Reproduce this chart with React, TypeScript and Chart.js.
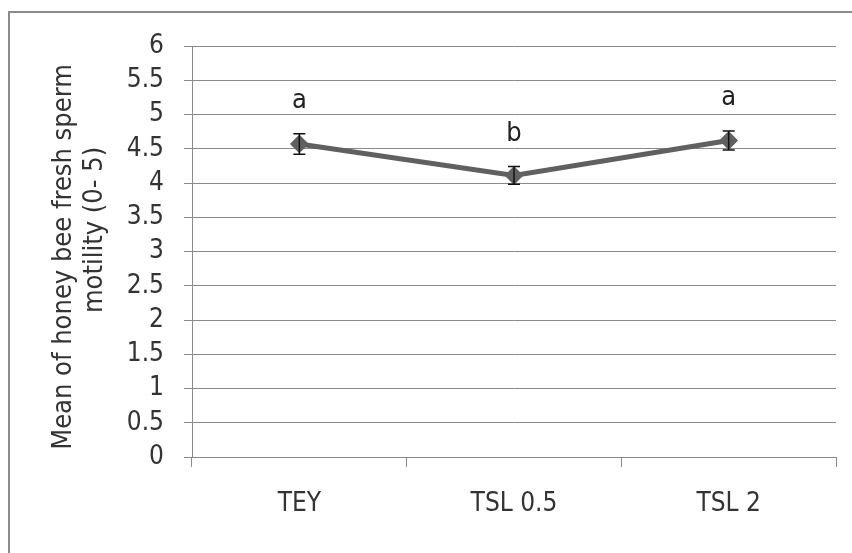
import React, { useEffect, useRef } from "react";
import { Chart, registerables } from "chart.js";

Chart.register(...registerables);

const categories = ["TEY", "TSL 0.5", "TSL 2"];
const meanValues = [4.57, 4.11, 4.62];
const errorValues = [0.15, 0.13, 0.14];
const groupLetters = ["a", "b", "a"];
const yTitleLines = ["Mean of honey bee fresh sperm", "motility (0- 5)"];

const FONT = '"Liberation Sans Narrow", "DejaVu Sans Condensed", "Open Sans", sans-serif';
const TEXT = "#333333";
const GRID = "#8a8a8a";

const W = 852;
const H = 553;

const framePlugin = {
  id: "frame",
  beforeDraw(chart: any) {
    const ctx = chart.ctx;
    ctx.save();
    ctx.fillStyle = "#ffffff";
    ctx.fillRect(0, 0, W, H);
    ctx.strokeStyle = "#8c8c8c";
    ctx.lineWidth = 2;
    ctx.beginPath();
    ctx.moveTo(9, H + 5);
    ctx.lineTo(9, 12);
    ctx.lineTo(W + 5, 12);
    ctx.stroke();
    ctx.restore();
  },
};

const extrasPlugin = {
  id: "extras",
  afterDatasetsDraw(chart: any) {
    const ctx = chart.ctx;
    const x = chart.scales.x;
    const y = chart.scales.y;
    ctx.save();
    ctx.strokeStyle = "#111111";
    ctx.lineWidth = 1.5;
    meanValues.forEach((m, i) => {
      const px = x.getPixelForValue(i);
      const top = y.getPixelForValue(m + errorValues[i]);
      const bot = y.getPixelForValue(m - errorValues[i]);
      ctx.beginPath();
      ctx.moveTo(px, top);
      ctx.lineTo(px, bot);
      ctx.moveTo(px - 6, top);
      ctx.lineTo(px + 6, top);
      ctx.moveTo(px - 6, bot);
      ctx.lineTo(px + 6, bot);
      ctx.stroke();
    });
    ctx.fillStyle = "#222222";
    ctx.font = `27px ${FONT}`;
    ctx.textAlign = "center";
    ctx.textBaseline = "middle";
    groupLetters.forEach((l, i) => {
      const px = x.getPixelForValue(i);
      const top = y.getPixelForValue(meanValues[i] + errorValues[i]);
      ctx.fillText(l, px, top - 33);
    });
    ctx.fillStyle = TEXT;
    ctx.font = `27px ${FONT}`;
    const centers = [
      { x: 64, y: 257 },
      { x: 95, y: 230 },
    ];
    yTitleLines.forEach((t, i) => {
      ctx.save();
      ctx.translate(centers[i].x, centers[i].y);
      ctx.rotate(-Math.PI / 2);
      ctx.fillText(t, 0, 0);
      ctx.restore();
    });
    ctx.restore();
  },
};

export default function App() {
  const ref = useRef<HTMLCanvasElement | null>(null);
  useEffect(() => {
    if (!ref.current) return;
    const chart = new Chart(ref.current, {
      type: "line",
      data: {
        labels: categories,
        datasets: [
          {
            data: meanValues,
            borderColor: "#606060",
            backgroundColor: "#606060",
            borderWidth: 5,
            pointStyle: "rectRot",
            pointRadius: 8,
            pointBorderWidth: 2,
            pointBackgroundColor: "#606060",
            pointBorderColor: "#606060",
            tension: 0,
          },
        ],
      },
      options: {
        responsive: false,
        animation: false,
        layout: { padding: { top: 46, right: 16, left: 0, bottom: 0 } },
        plugins: {
          legend: { display: false },
          tooltip: { enabled: false },
          title: { display: false },
        },
        scales: {
          x: {
            offset: true,
            afterFit: (s: any) => {
              s.height = 96;
            },
            grid: {
              offset: true,
              drawOnChartArea: false,
              drawTicks: true,
              tickLength: 10,
              color: GRID,
            },
            border: { color: GRID, width: 1 },
            ticks: {
              color: TEXT,
              font: { family: FONT, size: 26 },
              padding: 22,
            },
          },
          y: {
            min: 0,
            max: 6,
            afterFit: (s: any) => {
              s.width = 192;
            },
            grid: {
              color: GRID,
              tickLength: 8,
            },
            border: { color: GRID, width: 1 },
            ticks: {
              stepSize: 0.5,
              autoSkip: false,
              color: TEXT,
              font: { family: FONT, size: 26 },
              padding: 20,
              callback: (v: any) => `${Number(v)}`,
            },
          },
        },
      },
      plugins: [framePlugin, extrasPlugin],
    });
    return () => chart.destroy();
  }, []);
  return (
    <canvas
      ref={ref}
      width={W}
      height={H}
      style={{ position: "absolute", left: 0, top: 0, width: W, height: H }}
    />
  );
}
